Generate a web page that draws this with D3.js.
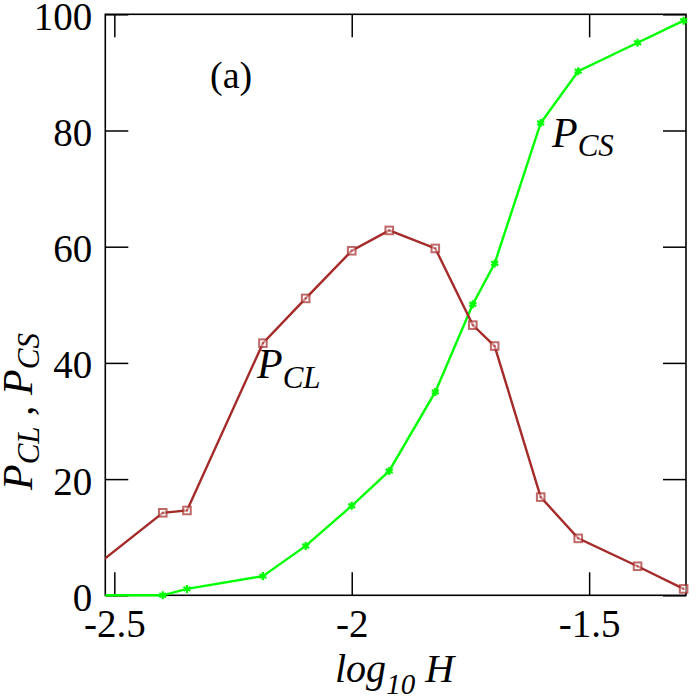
<!DOCTYPE html>
<html>
<head>
<meta charset="utf-8">
<script src="https://cdn.jsdelivr.net/npm/d3@7"></script>
</head>
<body style="margin:0;background:#fff">
<svg id="chart" width="700" height="700" style="display:block"></svg>
<script>
const FONT = '"Liberation Serif"';
// log10 H values
const logH = [-2.602, -2.398, -2.347, -2.187, -2.097, -2.0, -1.921, -1.824, -1.745, -1.699, -1.602, -1.523, -1.398, -1.301];
const pCL  = [1.0, 14.2, 14.6, 43.4, 51.1, 59.3, 62.8, 59.7, 46.5, 42.9, 16.9, 9.8, 5.0, 1.1];
const pCS  = [0.0, 0.0, 1.1, 3.3, 8.5, 15.4, 21.4, 35.0, 50.1, 57.1, 81.3, 90.2, 95.1, 98.9];
const xTicks = [-2.5, -2, -1.5];
const xTickLabels = ["-2.5", "-2", "-1.5"];
const yTicks = [0, 20, 40, 60, 80, 100];

const L = 105.3, R = 686, T = 14.3, B = 595.3;
const svg = d3.select("#chart");
const x = d3.scaleLinear().domain([-2.519, -1.296]).range([L, R]);
const y = d3.scaleLinear().domain([0, 100]).range([B, T]);

svg.append("defs").append("clipPath").attr("id", "clip")
  .append("rect").attr("x", L).attr("y", T - 10).attr("width", R - L + 10).attr("height", B - T + 20);
svg.append("clipPath").attr("id", "clip2")
  .append("rect").attr("x", L).attr("y", 0).attr("width", R - L).attr("height", 700);

const tickLen = 23;
// bottom axis
const gB = svg.append("g").attr("transform", `translate(0,${B})`)
  .call(d3.axisBottom(x).tickValues(xTicks).tickSizeInner(-tickLen).tickSizeOuter(0)
        .tickFormat((d, i) => xTickLabels[i]));
gB.selectAll("text").attr("y", 42).attr("dy", 0).style("font-size", "39px");
// top axis
svg.append("g").attr("transform", `translate(0,${T})`)
  .call(d3.axisTop(x).tickValues(xTicks).tickSizeInner(-tickLen).tickSizeOuter(0).tickFormat(""));
// left axis
const gL = svg.append("g").attr("transform", `translate(${L},0)`)
  .call(d3.axisLeft(y).tickValues(yTicks).tickSizeInner(-tickLen).tickSizeOuter(0).tickFormat(d3.format("d")));
gL.selectAll("text").attr("x", -13).attr("dy", 0).attr("y", 15).style("font-size", "39px");
// right axis
svg.append("g").attr("transform", `translate(${R},0)`)
  .call(d3.axisRight(y).tickValues(yTicks).tickSizeInner(-tickLen).tickSizeOuter(0).tickFormat(""));

svg.selectAll(".domain").remove();
svg.selectAll(".tick line").attr("stroke", "#000").attr("stroke-width", 1.5);
svg.selectAll(".tick text").attr("fill", "#000");

svg.append("rect").attr("x", L).attr("y", T).attr("width", R - L).attr("height", B - T)
  .attr("fill", "none").attr("stroke", "#000").attr("stroke-width", 1.6);

const clData = logH.map((h, i) => [h, pCL[i]]);
const csData = logH.map((h, i) => [h, pCS[i]]);
const line = d3.line().x(d => x(d[0])).y(d => y(d[1]));

svg.append("g").attr("clip-path", "url(#clip2)").append("path").datum(csData).attr("d", line)
  .attr("fill", "none").attr("stroke", "#00ff00").attr("stroke-width", 2.4);
svg.append("g").attr("clip-path", "url(#clip2)").append("path").datum(clData).attr("d", line)
  .attr("fill", "none").attr("stroke", "#a52a2a").attr("stroke-width", 2.4);

const plot = svg.append("g").attr("clip-path", "url(#clip)");
const inRange = d => d[0] >= x.domain()[0];
// CS markers
plot.selectAll(".cs").data(csData.filter(inRange)).join("path")
  .attr("transform", d => `translate(${x(d[0])},${y(d[1])})`)
  .attr("d", d3.symbol(d3.symbolAsterisk, 45)())
  .attr("fill", "none").attr("stroke", "#00ff00").attr("stroke-width", 2.2);
// CL markers
plot.selectAll(".cl").data(clData.filter(inRange)).join("rect")
  .attr("x", d => x(d[0]) - 3.8).attr("y", d => y(d[1]) - 3.8)
  .attr("width", 7.6).attr("height", 7.6)
  .attr("fill", "#fff").attr("fill-opacity", 0.5)
  .attr("stroke", "#a52a2a").attr("stroke-opacity", 0.7).attr("stroke-width", 2);
plot.selectAll(".cld").data(clData.filter(inRange)).join("rect")
  .attr("x", d => x(d[0]) - 1).attr("y", d => y(d[1]) - 1)
  .attr("width", 2).attr("height", 2).attr("fill", "#a52a2a").attr("fill-opacity", 0.7);

// labels
function subLabel(g, xPos, yPos, main, sub, size, subSize, subDy) {
  const t = g.append("text").attr("x", xPos).attr("y", yPos).style("font-style", "italic");
  t.append("tspan").text(main).style("font-size", size + "px");
  t.append("tspan").text(sub).attr("dy", subDy).style("font-size", subSize + "px");
  return t;
}
subLabel(svg, 552, 147, "P", "CS", 42, 31, 9);
subLabel(svg, 257, 378, "P", "CL", 42, 31, 10);

svg.append("text").attr("x", 210).attr("y", 88).style("font-size", "38px").text("(a)");

// x axis title
const xt = svg.append("text").attr("x", 335).attr("y", 682).style("font-style", "italic");
xt.append("tspan").text("log").style("font-size", "40px");
xt.append("tspan").text("10").attr("dy", 12).style("font-size", "29px");
xt.append("tspan").text(" H").attr("dy", -12).style("font-size", "40px");

// y axis title
const yt = svg.append("text").attr("transform", "translate(32,490) rotate(-90)").style("font-style", "italic");
yt.append("tspan").text("P").style("font-size", "42px");
yt.append("tspan").text("CL").attr("dy", 7).style("font-size", "31px");
yt.append("tspan").text(" , ").attr("dy", -7).style("font-size", "42px");
yt.append("tspan").text("P").style("font-size", "42px");
yt.append("tspan").text("CS").attr("dy", 7).style("font-size", "31px");

// apply serif font directly to every text and tspan
svg.selectAll("g").attr("font-family", null);
svg.selectAll("text, tspan").style("font-family", FONT);
</script>
</body>
</html>
